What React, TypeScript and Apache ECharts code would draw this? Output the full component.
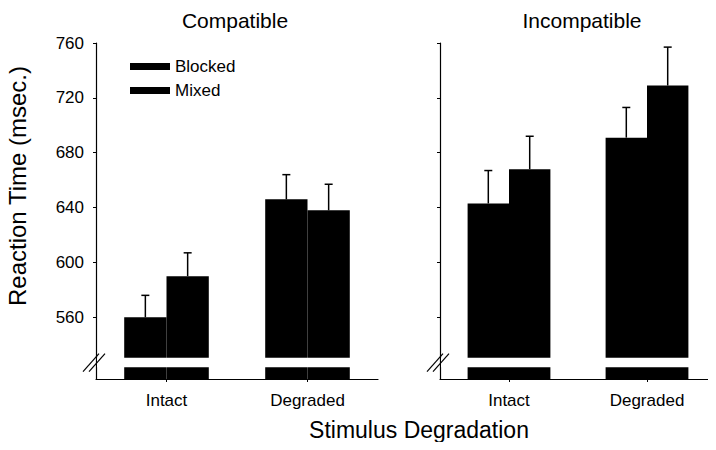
import React, { useEffect, useRef } from 'react';
import * as echarts from 'echarts';

const categories = ['Intact', 'Degraded'];
const panelTitles = ['Compatible', 'Incompatible'];
const seriesNames = ['Blocked', 'Mixed'];
const compatibleBlocked = [560, 646];
const compatibleMixed = [590, 638];
const incompatibleBlocked = [643, 691];
const incompatibleMixed = [668, 729];
const compatibleBlockedErr = [16, 18];
const compatibleMixedErr = [17, 19];
const incompatibleBlockedErr = [24, 22];
const incompatibleMixedErr = [24, 28];
const yTicks = [560, 600, 640, 680, 720, 760];
const yMin = 515;
const yMax = 760;
const breakRange = [523.5, 530.5];
const yAxisName = 'Reaction Time (msec.)';
const xAxisName = 'Stimulus Degradation';

const FONT = "'Liberation Sans', Arial, sans-serif";
const GRIDS = [
  { left: 96, top: 43, width: 282, height: 336 },
  { left: 440, top: 43, width: 282, height: 336 },
];
const CAT_GAP = 0.4;

export default function App() {
  const ref = useRef<HTMLDivElement>(null);
  useEffect(() => {
    if (!ref.current) return;
    const chart = echarts.init(ref.current, null, { renderer: 'svg' });

    const panelData = [
      { blocked: compatibleBlocked, mixed: compatibleMixed, be: compatibleBlockedErr, me: compatibleMixedErr },
      { blocked: incompatibleBlocked, mixed: incompatibleMixed, be: incompatibleBlockedErr, me: incompatibleMixedErr },
    ];

    const renderErr = (params: any, api: any) => {
      const cat = api.value(0);
      const v = api.value(1);
      const e = api.value(2);
      const s = api.value(3);
      const band = api.size([1, 0])[0];
      const barW = (band * (1 - CAT_GAP)) / 2;
      const base = api.coord([cat, v]);
      const top = api.coord([cat, v + e]);
      const x = base[0] + (s === 0 ? -barW / 2 : barW / 2);
      const st = { stroke: '#000', lineWidth: 1.5 };
      return {
        type: 'group',
        children: [
          { type: 'line', shape: { x1: x, y1: base[1], x2: x, y2: top[1] }, style: st },
          { type: 'line', shape: { x1: x - 4, y1: top[1], x2: x + 4, y2: top[1] }, style: st },
        ],
      };
    };

    const series: any[] = [];
    panelData.forEach((p, i) => {
      [p.blocked, p.mixed].forEach((vals, s) => {
        series.push({
          type: 'bar',
          name: seriesNames[s],
          xAxisIndex: i,
          yAxisIndex: i,
          data: vals,
          barGap: '0%',
          barCategoryGap: CAT_GAP * 100 + '%',
          itemStyle: { color: '#000' },
          z: 2,
        });
      });
      const errData: number[][] = [];
      categories.forEach((_, c) => {
        errData.push([c, p.blocked[c], p.be[c], 0]);
        errData.push([c, p.mixed[c], p.me[c], 1]);
      });
      series.push({
        type: 'custom',
        name: 'err' + i,
        xAxisIndex: i,
        yAxisIndex: i,
        data: errData,
        renderItem: renderErr,
        z: 3,
      });
    });

    const axisLine = { show: true, lineStyle: { color: '#000', width: 1.2 } };

    chart.setOption({
      animation: false,
      backgroundColor: '#fff',
      textStyle: { fontFamily: FONT },
      title: panelTitles.map((t, i) => ({
        text: t,
        left: GRIDS[i].left + (i === 0 ? 134 : 137),
        top: 5,
        textAlign: 'center',
        textStyle: { fontFamily: FONT, fontSize: 21, fontWeight: 'normal', color: '#000' },
      })),
      legend: {
        data: seriesNames,
        orient: 'vertical',
        left: 125,
        top: 52,
        itemWidth: 40,
        itemHeight: 7,
        itemGap: 5,
        icon: 'rect',
        textStyle: { fontFamily: FONT, fontSize: 17, color: '#000', lineHeight: 19 },
      },
      grid: GRIDS.map((g) => ({ ...g, containLabel: false })),
      xAxis: GRIDS.map((_, i) => ({
        type: 'category',
        gridIndex: i,
        data: categories,
        axisLine,
        axisTick: { show: true, alignWithLabel: true, length: 3, lineStyle: { color: '#000' } },
        axisLabel: { fontFamily: FONT, fontSize: 17, color: '#000', margin: 13 },
      })),
      yAxis: GRIDS.map((_, i) => ({
        type: 'value',
        gridIndex: i,
        min: yMin,
        max: yMax,
        splitLine: { show: false },
        axisLine,
        axisTick: { show: true, length: 3, customValues: yTicks, lineStyle: { color: '#000' } },
        axisLabel: {
          show: i === 0,
          customValues: yTicks,
          fontFamily: FONT,
          fontSize: 17,
          color: '#000',
          margin: 12,
        },
      })),
      series,
    });

    const yTop = chart.convertToPixel({ yAxisIndex: 0 }, breakRange[1]) as number;
    const yBot = chart.convertToPixel({ yAxisIndex: 0 }, breakRange[0]) as number;
    const yMid = (yTop + yBot) / 2;
    const graphics: any[] = [];
    GRIDS.forEach((g) => {
      graphics.push({
        type: 'rect',
        shape: { x: g.left + 1, y: yTop, width: g.width, height: yBot - yTop },
        style: { fill: '#fff' },
        z: 10,
      });
      [-3, 3].forEach((dx) => {
        graphics.push({
          type: 'line',
          shape: { x1: g.left - 10 + dx, y1: yMid + 9, x2: g.left + 6 + dx, y2: yMid - 9 },
          style: { stroke: '#000', lineWidth: 1.2 },
          z: 11,
        });
      });
    });
    graphics.push({
      type: 'text',
      x: 17,
      y: 186,
      rotation: Math.PI / 2,
      style: { text: yAxisName, fontFamily: FONT, fontSize: 24, fill: '#000', align: 'center', verticalAlign: 'middle' },
      z: 11,
    });
    graphics.push({
      type: 'text',
      x: 419,
      y: 430,
      style: { text: xAxisName, fontFamily: FONT, fontSize: 23, fill: '#000', align: 'center', verticalAlign: 'middle' },
      z: 11,
    });
    chart.setOption({ graphic: graphics });

    return () => chart.dispose();
  }, []);
  return <div ref={ref} style={{ width: 716, height: 450, margin: -8 }} />;
}
